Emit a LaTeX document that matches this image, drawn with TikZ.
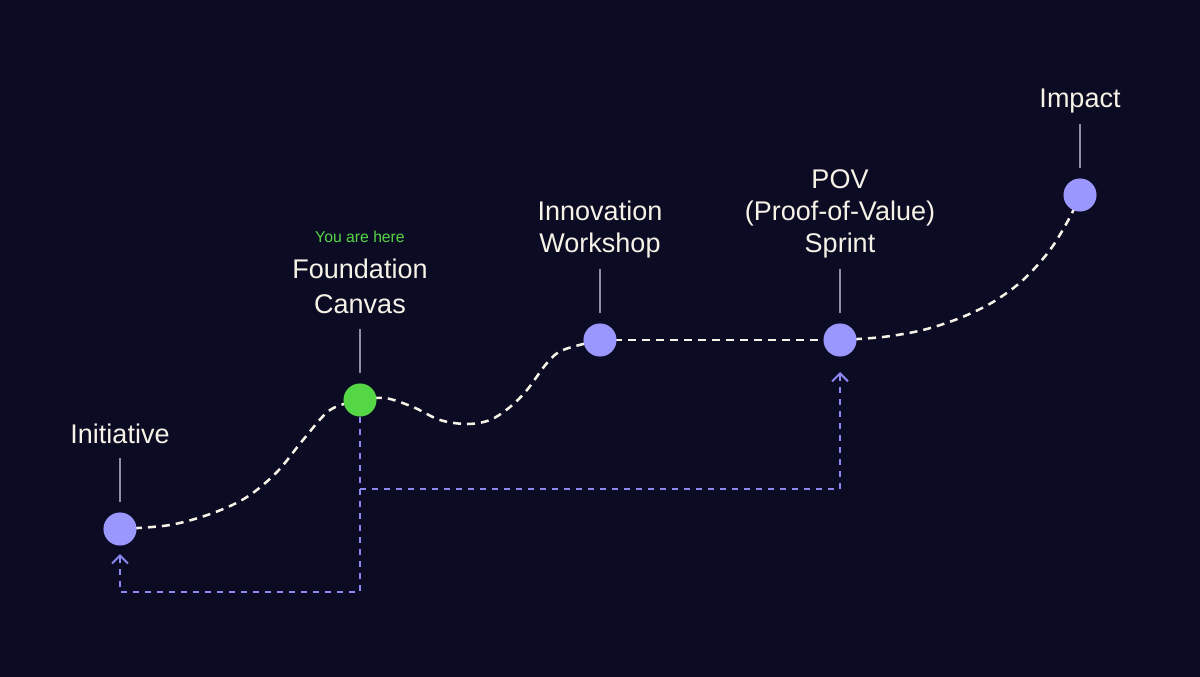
\documentclass[tikz,border=0pt]{standalone}
\usepackage{fontspec}
\setmainfont{Liberation Sans}
\usetikzlibrary{arrows.meta,backgrounds}
\definecolor{bgc}{HTML}{0B0B24}
\definecolor{nodeblue}{HTML}{9A97FF}
\definecolor{nodegreen}{HTML}{55D644}
\definecolor{txt}{HTML}{F6F2E6}
\definecolor{linkblue}{HTML}{8C88F2}
\definecolor{tickgray}{HTML}{8F8FA0}
\tikzset{
  stage/.style={circle, fill=nodeblue, minimum size=24.8pt, inner sep=0pt},
  here/.style={circle, fill=nodegreen, minimum size=24.8pt, inner sep=0pt},
  lbl/.style={text=txt, font=\fontsize{20.25}{24}\selectfont, align=center, anchor=base, inner sep=0pt},
  lblwide/.style={lbl, font=\fontsize{20.25}{26.5}\selectfont},
  herelbl/.style={text=nodegreen, font=\fontsize{11.8}{14}\selectfont, anchor=base, inner sep=0pt},
  tickline/.style={draw=tickgray, line width=1.1pt},
  pathdash/.style={draw=txt, line width=1.9pt, dash pattern=on 6pt off 4.5pt},
  linkdash/.style={draw=linkblue, line width=1.5pt, dash pattern=on 4.5pt off 4.5pt,
    -{Straight Barb[length=6pt,width=12pt,line width=1.5pt]}}
}
\begin{document}
\begin{tikzpicture}[x=0.75pt,y=-0.75pt]
\useasboundingbox (0,0) rectangle (1200,677);
% stages
\node[stage] (n1) at (120,529) {};
\node[here]  (n2) at (360,400) {};
\node[stage] (n3) at (600,340) {};
\node[stage] (n4) at (840,340) {};
\node[stage] (n5) at (1080,195) {};
% labels (anchor = baseline of last line)
\node[lbl] (t1) at (120,443) {Initiative};
\node[herelbl] (th) at (360,243) {You are here};
\node[lblwide] (t2) at (360,314) {Foundation\\Canvas};
\node[lbl] (t3) at (600,253) {Innovation\\Workshop};
\node[lbl] (t4) at (840,253) {POV\\(Proof-of-Value)\\Sprint};
\node[lbl] (t5) at (1080,108) {Impact};
% arrow end points
\coordinate (a1) at (120,554);
\coordinate (b1) at (360,592);
\coordinate (br) at (360,489);
\coordinate (a2) at (840,372);
\begin{scope}[on background layer]
\fill[bgc] (0,0) rectangle (1200,677);
% ticks
\foreach \n in {n1,n2,n3,n4,n5}{
  \draw[tickline] ([yshift=7.9pt]\n.north) -- ++(0,-44);
}
% journey path
\draw[pathdash] plot[smooth, tension=0.55] coordinates
  {(n1.center) (170,525) (213,513) (247,497) (277,472) (303,440) (330,410) (n2.center)};
\draw[pathdash] plot[smooth, tension=0.55] coordinates
  {(n2.center) (385,398) (413,407) (440,420) (467,424) (490,420) (510,407) (527,390) (547,363) (563,350) (n3.center)};
\draw[pathdash] (n3.center) -- (n4.center);
\draw[pathdash] plot[smooth, tension=0.55] coordinates
  {(n4.center) (883,337) (923,330) (960,318) (993,302) (1023,280) (1050,250) (1070,217) (n5.center)};
% links
\draw[linkdash] (n2.south) -- (b1) -| (a1);
\draw[linkdash] (br) -| (a2);
\end{scope}
\end{tikzpicture}
\end{document}
